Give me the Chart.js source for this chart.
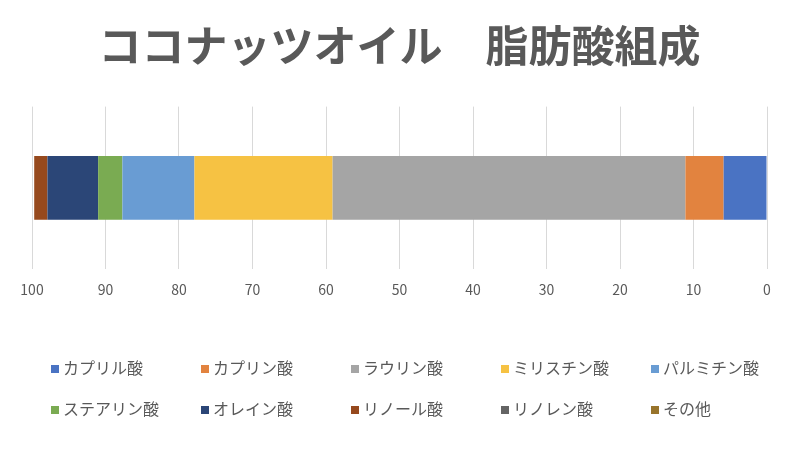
<!DOCTYPE html>
<html lang="ja">
<head>
<meta charset="UTF-8">
<title>ココナッツオイル 脂肪酸組成</title>
<script src="https://cdn.jsdelivr.net/npm/chart.js@4.4.1/dist/chart.umd.min.js"></script>
<style>
    body {
        margin: 0;
        background: #fff;
        font-family: 'Noto Sans CJK JP', sans-serif;
    }
    .wrap {
        position: relative;
        width: 800px;
        height: 452px;
    }
    .legend {
        position: absolute;
        left: 51px;
        top: 355px;
        width: 750px;
        display: grid;
        grid-template-columns: repeat(5, 150px);
        row-gap: 17px;
        color: #595959;
        font-size: 16px;
        line-height: 24px;
    }
    .legend span.box {
        display: inline-block;
        width: 8px;
        height: 8px;
        margin-right: 4px;
        vertical-align: 1px;
    }
</style>
</head>
<body>
<div class="wrap">
    <canvas id="chart" width="800" height="452"></canvas>
    <div class="legend" id="legend"></div>
</div>
<script>
    const categories = ['ココナッツオイル'];
    const acidNames = ['カプリル酸', 'カプリン酸', 'ラウリン酸', 'ミリスチン酸', 'パルミチン酸',
                       'ステアリン酸', 'オレイン酸', 'リノール酸', 'リノレン酸', 'その他'];
    const acidValues = [5.9, 5.2, 48.0, 18.8, 9.8, 3.3, 6.9, 1.8, 0, 0];
    const acidColors = ['#4a73c3', '#e2833f', '#a5a5a5', '#f6c243', '#699cd3',
                        '#7aab52', '#2b4677', '#96491d', '#646464', '#98742b'];
    const tickValues = [0, 10, 20, 30, 40, 50, 60, 70, 80, 90, 100];

    const datasets = acidNames.map((name, i) => ({
        label: name,
        data: [acidValues[i]],
        backgroundColor: acidColors[i],
        borderWidth: 0,
        categoryPercentage: 0.8,
        barPercentage: 0.49
    }));

    const chart = new Chart(document.getElementById('chart'), {
        type: 'bar',
        data: { labels: categories, datasets: datasets },
        options: {
            indexAxis: 'y',
            responsive: false,
            animation: false,
            layout: { padding: { left: 32, right: 33, top: 0, bottom: 142 } },
            plugins: {
                legend: { display: false },
                tooltip: { enabled: false },
                title: {
                    display: true,
                    text: 'ココナッツオイル　脂肪酸組成',
                    color: '#595959',
                    font: { family: "'Noto Sans CJK JP'", size: 43, weight: 'bold' },
                    padding: { top: 20, bottom: 35 }
                }
            },
            scales: {
                x: {
                    stacked: true,
                    reverse: true,
                    min: 0,
                    max: 100,
                    afterBuildTicks: axis => { axis.ticks = tickValues.map(v => ({ value: v })); },
                    grid: { color: '#d9d9d9', drawTicks: false },
                    border: { display: false },
                    ticks: {
                        color: '#595959',
                        padding: 12,
                        maxRotation: 0,
                        font: { family: "'Noto Sans CJK JP'", size: 14 }
                    }
                },
                y: {
                    stacked: true,
                    display: false
                }
            }
        }
    });

    const legend = document.getElementById('legend');
    chart.data.datasets.forEach(ds => {
        const item = document.createElement('div');
        item.innerHTML = '<span class="box" style="background:' + ds.backgroundColor + '"></span>' + ds.label;
        legend.appendChild(item);
    });
</script>
</body>
</html>
